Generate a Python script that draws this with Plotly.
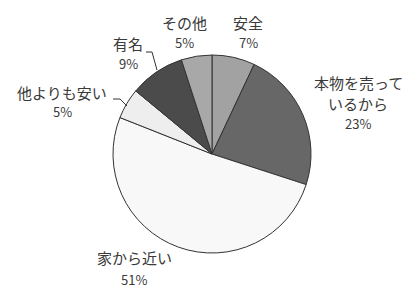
import plotly.graph_objects as go

categories = ["安全", "本物を売っているから", "家から近い", "他よりも安い", "有名", "その他"]
values = [7, 23, 51, 5, 9, 5]
label_lines = [["安全"], ["本物を売って", "いるから"], ["家から近い"], ["他よりも安い"], ["有名"], ["その他"]]
colors = ["#a2a2a2", "#676767", "#f8f8f8", "#eeeeee", "#4b4b4b", "#a8a8a8"]

W, H = 411, 289
cx, cy, r = 212, 154, 99

fig = go.Figure(go.Pie(
    labels=categories, values=values, sort=False, direction="clockwise", rotation=0,
    marker=dict(colors=colors, line=dict(color="#333333", width=1)),
    textinfo="none", hoverinfo="label+percent", showlegend=False,
    domain=dict(x=[(cx - r) / W, (cx + r) / W], y=[(H - cy - r) / H, (H - cy + r) / H]),
))

# label anchor positions (pixel coords, top-left origin): x center, y of first line
label_pos = {
    "安全": (248, 22),
    "本物を売っているから": (358, 83),
    "家から近い": (134, 257),
    "他よりも安い": (62, 92),
    "有名": (128, 43),
    "その他": (184, 22),
}
name_font = dict(family="Noto Sans CJK JP", size=15, color="#3a3a3a")
pct_font = dict(family="Noto Sans CJK JP", size=13, color="#3a3a3a")
ann = []
for cat, lines, v in zip(categories, label_lines, values):
    x0, y0 = label_pos[cat]
    allLines = lines + [f"{v}%"]
    step = 22 if cat == "家から近い" else 20
    for i, t in enumerate(allLines):
        f = pct_font if i == len(allLines) - 1 else name_font
        ann.append(dict(x=x0 / W, y=1 - (y0 + i * step) / H, xref="paper", yref="paper",
                        text=t, showarrow=False, font=f, xanchor="center", yanchor="middle"))

def px(x, y):
    return f"{x / W} {1 - y / H}"

shapes = [
    dict(type="path", xref="paper", yref="paper",
         path=f"M {px(146, 52)} L {px(152, 52)} L {px(157, 70)}",
         line=dict(color="#333333", width=1)),
    dict(type="path", xref="paper", yref="paper",
         path=f"M {px(113, 99)} L {px(120, 99)} L {px(127, 106)}",
         line=dict(color="#333333", width=1)),
]

fig.update_layout(width=W, height=H, margin=dict(l=0, r=0, t=0, b=0),
                  paper_bgcolor="white", plot_bgcolor="white",
                  annotations=ann, shapes=shapes)
fig.write_html("out.html", config={"displayModeBar": False},
               post_script="document.body.style.margin='0px';")
